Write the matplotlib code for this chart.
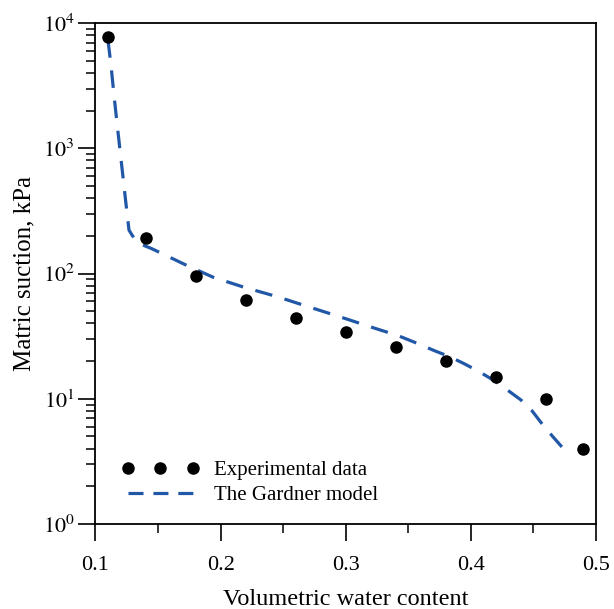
import math
import matplotlib
matplotlib.use("Agg")
import matplotlib.pyplot as plt
from matplotlib.ticker import LogLocator, MultipleLocator, FuncFormatter

plt.rcParams['font.family'] = ['Liberation Serif', 'DejaVu Serif']
plt.rcParams['mathtext.fontset'] = 'stix'

# Experimental data
exp_theta = [0.11, 0.14, 0.18, 0.22, 0.26, 0.30, 0.34, 0.38, 0.42, 0.46, 0.49]
exp_suction = [7700, 192, 96, 62, 44, 34, 26, 20, 15, 10, 4.0]

# Gardner model curve
model_theta = [0.1100, 0.1124, 0.1148, 0.1172, 0.1196, 0.1220, 0.1244, 0.1268,
               0.133, 0.145, 0.158, 0.170, 0.181, 0.194, 0.219, 0.245, 0.270,
               0.295, 0.321, 0.342, 0.358, 0.371, 0.383, 0.395, 0.407, 0.419,
               0.428, 0.440, 0.449, 0.457, 0.465, 0.477]
model_suction = [7300, 4620, 2660, 1590, 969, 590, 359, 222,
                 177, 158, 137, 120, 107, 93.5, 77.6, 65.5, 54.4,
                 45.3, 37.2, 31.9, 27.5, 24.2, 21.7, 19.0, 16.4, 13.9,
                 12.0, 9.8, 8.0, 6.3, 5.06, 3.7]

xticks = [0.1, 0.2, 0.3, 0.4, 0.5]

fig = plt.figure(figsize=(6.14, 6.09), dpi=100)
ax = fig.add_axes([0.1555, 0.1396, 0.815, 0.8224])

ax.plot(exp_theta, exp_suction, 'o', color='black', markersize=8,
        linestyle='none', label='Experimental data', zorder=3)
ax.plot(model_theta, model_suction, color='#2157A7', linewidth=2.3,
        dashes=(5.5, 4), label='The Gardner model', zorder=2)

ax.set_yscale('log')
ax.set_xlim(0.1, 0.5)
ax.set_ylim(1, 1e4)
ax.set_xticks(xticks)
ax.xaxis.set_minor_locator(MultipleLocator(0.05))
ax.xaxis.set_major_formatter(FuncFormatter(lambda v, p: f"{v:.1f}"))
ax.yaxis.set_major_locator(LogLocator(base=10, numticks=10))
ax.yaxis.set_minor_locator(LogLocator(base=10, subs=range(2, 10), numticks=20))
ax.yaxis.set_major_formatter(FuncFormatter(lambda v, p: r"$10^{%d}$" % round(math.log10(v))))

ax.tick_params(axis='both', which='major', direction='out', length=12, width=1.2,
               labelsize=16)
ax.tick_params(axis='both', which='minor', direction='out', length=6.5, width=1.1)
ax.tick_params(axis='x', which='major', pad=11)
ax.tick_params(axis='y', which='major', pad=3)
for s in ax.spines.values():
    s.set_linewidth(1.3)

ax.set_xlabel('Volumetric water content', fontsize=17.5, labelpad=10)
ax.set_ylabel('Matric suction, kPa', fontsize=18, labelpad=5)

leg = ax.legend(loc='upper left', bbox_to_anchor=(0.035, 0.143), frameon=False,
                numpoints=3, fontsize=15, handlelength=3.72, handletextpad=0.75,
                labelspacing=0.25, borderaxespad=0)
leg.get_lines()[1].set_dashes((4.7, 3.1))

fig.savefig('out.png', dpi=100)
